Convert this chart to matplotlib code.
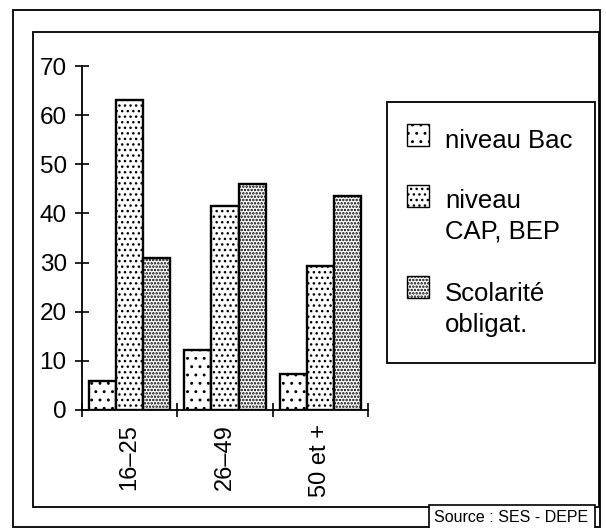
import matplotlib
matplotlib.use("Agg")
import matplotlib.pyplot as plt
from matplotlib.patches import Rectangle
import numpy as np

plt.rcParams['font.family'] = ['Liberation Sans', 'DejaVu Sans']
plt.rcParams['hatch.linewidth'] = 0.9

categories = ["16–25", "26–49", "50 et +"]
series_names = ["niveau Bac", "niveau\nCAP, BEP", "Scolarité\nobligat."]
niveau_bac = [5.9, 12.3, 7.3]
niveau_cap_bep = [63, 41.5, 29.3]
scolarite_oblig = [31, 46, 43.5]
yticks = [0, 10, 20, 30, 40, 50, 60, 70]
source_text = "Source : SES - DEPE"

W, H = 606, 528
fig = plt.figure(figsize=(W / 100, H / 100), dpi=100)


def fx(px):
    return px / W


def fy(py):
    return 1 - py / H


def frect(x0, y0, x1, y1, **kw):
    r = Rectangle((fx(x0), fy(y1)), fx(x1) - fx(x0), fy(y0) - fy(y1),
                  transform=fig.transFigure, **kw)
    fig.add_artist(r)
    return r


# frames
frect(13, 10, 600, 527, fill=False, edgecolor='black', linewidth=1.3)
frect(33, 32, 599, 507, fill=False, edgecolor='black', linewidth=1.3)

ax = fig.add_axes([fx(82), fy(410), fx(368) - fx(82), fy(66) - fy(410)])
ax.set_facecolor('none')

hatches = ['..', '...', '.....']
hatch_lw = [0.9, 1.0, 1.2]
series = [niveau_bac, niveau_cap_bep, scolarite_oblig]
x = np.arange(len(categories))
bw = 0.285
for i, (vals, h, hl) in enumerate(zip(series, hatches, hatch_lw)):
    with plt.rc_context({'hatch.linewidth': hl}):
        ax.bar(x + (i - 1) * bw, vals, width=bw, facecolor='white', edgecolor='black',
               linewidth=1.7, hatch=h, zorder=2)

ax.set_xlim(-0.5, 2.5)
ax.set_ylim(0, 70)
for s in ['top', 'right']:
    ax.spines[s].set_visible(False)
ax.spines['left'].set_linewidth(1.3)
ax.spines['bottom'].set_linewidth(1.3)

ax.set_yticks(yticks)
ax.set_yticklabels([str(v) for v in yticks], fontsize=17.5)
ax.tick_params(axis='y', direction='inout', length=10, width=1.2, pad=6)

ax.set_xticks([-0.5, 0.5, 1.5, 2.5])
ax.set_xticklabels([])
ax.tick_params(axis='x', direction='inout', length=10, width=1.2)
ax.set_xticks(x, minor=True)
ax.set_xticklabels(categories, minor=True, rotation=90, fontsize=17, va='top')
ax.tick_params(axis='x', which='minor', length=0, pad=10)

# legend
frect(387, 102, 595, 363, fill=False, edgecolor='black', linewidth=1.3)
patch_tops = [124, 185, 276]
first_baselines = [148, 208, 301]
line_pitch = 31
for ptop, base, name, h, hl in zip(patch_tops, first_baselines, series_names, hatches, hatch_lw):
    with plt.rc_context({'hatch.linewidth': hl}):
        frect(407, ptop, 429, ptop + 22, facecolor='white', edgecolor='black',
              linewidth=1.0, hatch=h)
    for k, line in enumerate(name.split("\n")):
        fig.text(fx(445), fy(base + k * line_pitch), line, fontsize=18.5,
                 va='baseline', ha='left')

# source box
frect(429, 505, 595, 530, facecolor='white', edgecolor='black', linewidth=1.2, zorder=5)
fig.text(fx(511), fy(518), source_text, fontsize=11.5, ha='center', va='center', zorder=6)

fig.savefig("out.png", dpi=100)
